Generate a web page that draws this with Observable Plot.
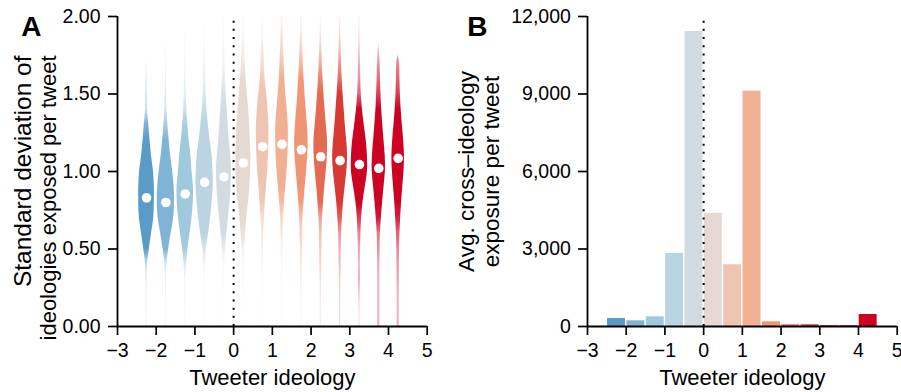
<!DOCTYPE html>
<html>
<head>
<meta charset="utf-8">
<script src="https://cdn.jsdelivr.net/npm/d3@7"></script>
<script src="https://cdn.jsdelivr.net/npm/@observablehq/plot@0.6"></script>
<style>
  body { margin: 0; background: #fff; }
  #wrap { display: flex; width: 901px; height: 392px; overflow: hidden; }
  #wrap svg { display: block; flex: none; }
</style>
</head>
<body>
<div id="wrap"></div>
<script>
// ---- data ----
const ideologyCenters = [-2.25, -1.75, -1.25, -0.75, -0.25, 0.25, 0.75, 1.25, 1.75, 2.25, 2.75, 3.25, 3.75, 4.25];
const groupColors = ["#5b9bc8", "#80b4d7", "#a0c9de", "#bad4e1", "#d2dbe1", "#e6d9d3", "#efc4b0",
                     "#f2b093", "#f09574", "#e36b52", "#d63a33", "#cc0323", "#cc0323", "#cc0323"];
const medianSD = [0.83, 0.80, 0.855, 0.93, 0.965, 1.055, 1.16, 1.175, 1.14, 1.095, 1.07, 1.045, 1.02, 1.085];
const violinLevels = [0, 0.1, 0.2, 0.3, 0.4, 0.5, 0.6, 0.7, 0.8, 0.9, 1.0, 1.1, 1.2, 1.3, 1.4, 1.5, 1.6, 1.7, 1.8, 1.9, 2.0];
const violinTops = [1.73, 1.89, 1.92, 2.0, 2.0, 2.0, 2.0, 2.0, 2.0, 2.0, 2.0, 2.0, 1.83, 1.75];
const violinWidths = [
  [0.4,0.4,0.5,0.6,1.0,2.8,5.0,7.2,7.8,7.8,7.0,5.0,3.5,2.3,1.0,0.8,0.6,0.3,0,0,0],
  [0.4,0.4,0.5,0.6,1.0,2.8,5.2,7.8,8.6,8.3,6.8,4.8,3.3,2.0,1.1,0.8,0.6,0.4,0.3,0,0],
  [0.4,0.4,0.5,0.6,1.2,2.7,4.8,6.8,8.0,8.2,6.8,5.7,4.0,2.6,1.6,1.0,0.7,0.5,0.4,0.2,0],
  [0.3,0.3,0.4,0.5,0.8,1.8,4.0,6.0,7.5,8.6,8.4,7.5,5.5,3.8,2.4,1.6,1.1,0.8,0.6,0.4,0.2],
  [0.3,0.3,0.3,0.4,0.6,1.5,2.8,4.4,6.0,7.0,7.5,6.8,5.2,4.2,3.2,2.3,1.6,1.1,0.8,0.5,0.3],
  [0.3,0.3,0.4,0.5,0.8,1.3,2.3,3.4,5.2,6.6,7.3,7.5,7.0,6.3,5.4,4.0,2.8,1.9,1.3,0.8,0.5],
  [0.3,0.3,0.3,0.4,0.6,0.8,1.1,1.7,2.6,3.7,5.0,5.8,6.2,6.2,5.3,4.0,2.4,1.7,1.1,0.7,0.4],
  [0.3,0.3,0.3,0.4,0.5,0.7,1.0,1.5,2.4,3.7,5.0,5.9,6.3,6.2,5.2,3.8,2.8,2.1,1.5,1.0,0.6],
  [0.4,0.4,0.5,0.6,0.8,1.0,1.3,1.7,2.6,3.8,5.2,6.3,6.8,6.0,4.8,3.6,2.7,1.9,1.3,0.8,0.5],
  [0.5,0.5,0.6,0.7,0.9,1.1,1.3,1.8,2.8,4.0,5.5,6.6,6.8,5.6,4.3,3.2,2.3,1.6,1.0,0.6,0.3],
  [0.6,0.6,0.7,0.8,1.0,1.2,1.5,2.3,3.4,5.0,6.7,7.5,6.6,5.2,4.1,3.0,2.1,1.5,1.0,0.6,0.3],
  [0.5,0.5,0.7,1.0,0.9,1.1,1.5,2.2,3.5,5.8,8.0,8.0,6.8,4.8,3.0,1.8,1.3,1.0,0.7,0.5,0.3],
  [1.0,1.0,1.0,1.0,1.1,1.3,1.6,2.6,3.8,5.2,6.6,6.4,5.2,4.0,2.9,2.2,1.7,1.3,0.6,0,0],
  [1.0,1.0,1.0,1.1,1.2,1.4,1.8,2.5,3.4,4.6,5.8,6.3,5.5,4.2,3.0,2.2,1.8,1.4,0,0,0]
];
const binStarts = [-2.5, -2, -1.5, -1, -0.5, 0, 0.5, 1, 1.5, 2, 2.5, 3, 3.5, 4];
const exposure = [310, 220, 376, 2830, 11420, 4380, 2390, 9110, 182, 66, 66, 27, 27, 465];
const xTicks = [-3, -2, -1, 0, 1, 2, 3, 4, 5];
const yTicksA = [0, 0.5, 1, 1.5, 2];
const yTicksB = [0, 3000, 6000, 9000, 12000];

// ---- styling ----
const FONT = "'Liberation Sans', Arial, Helvetica, sans-serif";
const TICK_FS = 19.5, TITLE_FS = 22, YTITLE_B_FS = 22.5;
const widthUnit = 0.0258;   // data units of x per unit of violin width
const alphaOf = w => Math.min(1, Math.pow(w / 2.8, 1.1));

function violinPoints(i) {
  const top = violinTops[i];
  const pts = [];
  violinLevels.forEach((v, k) => { if (v <= top + 1e-9) pts.push({v, w: violinWidths[i][k]}); });
  if (pts[pts.length - 1].v < top - 1e-9) pts.push({v: top, w: 0, tip: true});
  return pts;
}

// ---------- Panel A ----------
const marksA = [];
ideologyCenters.forEach((c, i) => {
  marksA.push(Plot.areaX(violinPoints(i), {
    y: "v",
    x1: d => c - d.w * widthUnit,
    x2: d => c + d.w * widthUnit,
    fill: `url(#vg${i})`,
    curve: "catmull-rom"
  }));
});
marksA.push(
  Plot.ruleX([0], {y1: 1.97, y2: 0, stroke: "black", strokeWidth: 2, strokeDasharray: "2 6.2"}),
  Plot.dot(ideologyCenters.map((c, i) => ({x: c, y: medianSD[i]})), {x: "x", y: "y", r: 4.8, fill: "white"}),
  Plot.ruleX([-3], {stroke: "black", strokeWidth: 1.8}),
  Plot.ruleY([0], {stroke: "black", strokeWidth: 1.8}),
  Plot.axisY(yTicksA, {tickSize: 9, tickPadding: 8, tickFormat: d3.format(".2f"), fontSize: TICK_FS, strokeWidth: 1.7, label: null}),
  Plot.axisX(xTicks, {tickSize: 9, tickPadding: 8, fontSize: TICK_FS, strokeWidth: 1.7, label: null}),
  Plot.text(["Tweeter ideology"], {frameAnchor: "bottom", textAnchor: "middle", lineAnchor: "top", dy: 43, fontSize: TITLE_FS}),
  Plot.text(["Standard deviation of"], {frameAnchor: "top-left", textAnchor: "end", lineAnchor: "middle", rotate: -90, dx: -94, dy: 39, fontSize: 24.5}),
  Plot.text(["ideologies exposed per tweet"], {frameAnchor: "top-left", textAnchor: "end", lineAnchor: "middle", rotate: -90, dx: -69, dy: 39, fontSize: 22}),
  Plot.text(["A"], {frameAnchor: "top-left", textAnchor: "start", lineAnchor: "top", dx: -96.3, fontSize: 28, fontWeight: "bold"})
);

const plotA = Plot.plot({
  width: 450, height: 392,
  marginLeft: 117, marginRight: 23.3, marginTop: 16, marginBottom: 66,
  x: {domain: [-3, 5]},
  y: {domain: [0, 2]},
  style: {fontFamily: FONT, fontSize: "19px", color: "black", background: "white", overflow: "visible"},
  marks: marksA
});

// gradients that fade the thin tails of each violin
(function addGradients() {
  const ys = plotA.scale("y");
  const yTop = ys.apply(2), yBot = ys.apply(0);
  const defs = d3.select(plotA).insert("defs", ":first-child");
  ideologyCenters.forEach((c, i) => {
    const pts = violinPoints(i).slice().reverse();
    const g = defs.append("linearGradient")
      .attr("id", `vg${i}`).attr("gradientUnits", "userSpaceOnUse")
      .attr("x1", 0).attr("x2", 0).attr("y1", yTop).attr("y2", yBot);
    pts.forEach((p, k) => {
      const w = p.tip && pts[k + 1] ? pts[k + 1].w : p.w;
      g.append("stop")
        .attr("offset", (ys.apply(p.v) - yTop) / (yBot - yTop))
        .attr("stop-color", groupColors[i])
        .attr("stop-opacity", alphaOf(w));
    });
  });
})();

// ---------- Panel B ----------
const bars = binStarts.map((s, i) => ({x1: s, x2: s + 0.5, value: exposure[i], color: groupColors[i]}));
const plotB = Plot.plot({
  width: 451, height: 392,
  marginLeft: 137, marginRight: 4.3, marginTop: 16, marginBottom: 66,
  x: {domain: [-3, 5]},
  y: {domain: [0, 12000]},
  color: {type: "identity"},
  style: {fontFamily: FONT, fontSize: "19px", color: "black", background: "white", overflow: "visible"},
  marks: [
    Plot.rectY(bars, {x1: "x1", x2: "x2", y1: 0, y2: "value", fill: "color", insetLeft: 0.7, insetRight: 0.7}),
    Plot.ruleX([0], {y1: 11820, y2: 0, stroke: "black", strokeWidth: 2, strokeDasharray: "2 6.2"}),
    Plot.ruleX([-3], {stroke: "black", strokeWidth: 1.8}),
    Plot.ruleY([0], {stroke: "black", strokeWidth: 1.8}),
    Plot.axisY(yTicksB, {tickSize: 9, tickPadding: 7.6, tickFormat: d3.format(","), fontSize: TICK_FS, strokeWidth: 1.7, label: null}),
    Plot.axisX(xTicks, {tickSize: 9, tickPadding: 8, fontSize: TICK_FS, strokeWidth: 1.7, label: null}),
    Plot.text(["Tweeter ideology"], {frameAnchor: "bottom", textAnchor: "middle", lineAnchor: "top", dy: 43, fontSize: TITLE_FS}),
    Plot.text(["Avg. cross\u2013ideology"], {frameAnchor: "left", textAnchor: "middle", lineAnchor: "middle", rotate: -90, dx: -121, dy: 0, fontSize: YTITLE_B_FS}),
    Plot.text(["exposure per tweet"], {frameAnchor: "left", textAnchor: "middle", lineAnchor: "middle", rotate: -90, dx: -96, dy: 0, fontSize: YTITLE_B_FS}),
    Plot.text(["B"], {frameAnchor: "top-left", textAnchor: "start", lineAnchor: "top", dx: -120.3, fontSize: 28, fontWeight: "bold"})
  ]
});

document.getElementById("wrap").append(plotA, plotB);
</script>
</body>
</html>
